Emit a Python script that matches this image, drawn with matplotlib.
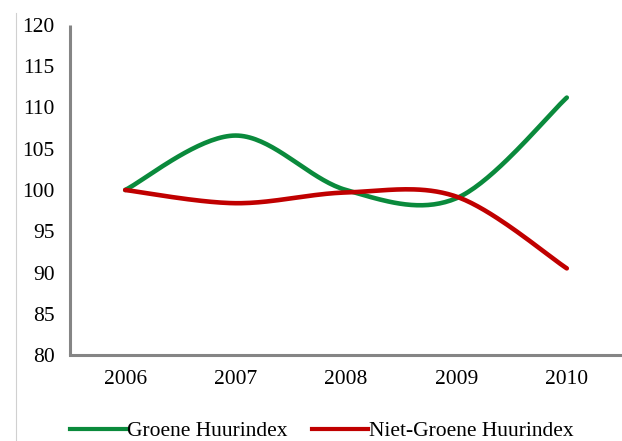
import numpy as np
import matplotlib
matplotlib.use("Agg")
import matplotlib.pyplot as plt
from matplotlib.lines import Line2D

years = ["2006", "2007", "2008", "2009", "2010"]
groene = [100.0, 106.6, 100.0, 99.0, 111.2]
niet_groene = [100.0, 98.4, 99.7, 99.2, 90.5]
labels = ["Groene Huurindex", "Niet-Groene Huurindex"]
colors = ["#0a8a3c", "#c00000"]

plt.rcParams["font.family"] = ["Liberation Serif", "DejaVu Serif"]
plt.rcParams["font.size"] = 15.5


def smooth(y, n=40):
    # spreadsheet-style smoothed line: cubic bezier through every point
    y = np.asarray(y, dtype=float)
    x = np.arange(len(y), dtype=float)
    px = np.concatenate([[x[0]], x, [x[-1]]])
    py = np.concatenate([[y[0]], y, [y[-1]]])
    xs, ys = [], []
    t = np.linspace(0, 1, n)[:, None]
    for i in range(len(y) - 1):
        p0 = np.array([x[i], y[i]])
        p3 = np.array([x[i + 1], y[i + 1]])
        p1 = p0 + (np.array([px[i + 2], py[i + 2]]) - np.array([px[i], py[i]])) / 6
        p2 = p3 - (np.array([px[i + 3], py[i + 3]]) - np.array([px[i + 1], py[i + 1]])) / 6
        b = ((1 - t) ** 3) * p0 + 3 * ((1 - t) ** 2) * t * p1 + 3 * (1 - t) * t ** 2 * p2 + t ** 3 * p3
        xs.append(b[:, 0])
        ys.append(b[:, 1])
    return np.concatenate(xs), np.concatenate(ys)


fig = plt.figure(figsize=(6.22, 4.41), dpi=100)
ax = fig.add_axes([70 / 622, 86 / 441, 552 / 622, 330 / 441])

for series, c in zip([groene, niet_groene], colors):
    sx, sy = smooth(series)
    ax.plot(sx, sy, color=c, lw=3.3, solid_capstyle="round", zorder=3)

ax.set_xlim(-0.5, 4.5)
ax.set_ylim(80, 120)
ax.set_yticks(np.arange(80, 121, 5))
ax.set_xticks(range(len(years)))
ax.set_xticklabels(years)
ax.tick_params(length=0, labelsize=15.5, colors="black")
ax.tick_params(axis="y", pad=11)
ax.tick_params(axis="x", pad=11)
for s in ["top", "right"]:
    ax.spines[s].set_visible(False)
for s in ["left", "bottom"]:
    ax.spines[s].set_color("#858585")
    ax.spines[s].set_linewidth(2.2)
ax.spines["left"].set_capstyle("butt")

# thin frame edge on the left
fig.add_artist(Line2D([16 / 622, 16 / 622], [0, 1 - 13 / 441], color="#d0d0d0", lw=0.8))

handles = [Line2D([], [], color=c, lw=3.0) for c in colors]
fig.legend(handles, labels, loc="center", bbox_to_anchor=(322 / 622, 10 / 441),
           ncol=2, frameon=False, handlelength=2.6, handletextpad=0.05,
           columnspacing=1.15, fontsize=15.5)

fig.savefig("out.png", dpi=100)
